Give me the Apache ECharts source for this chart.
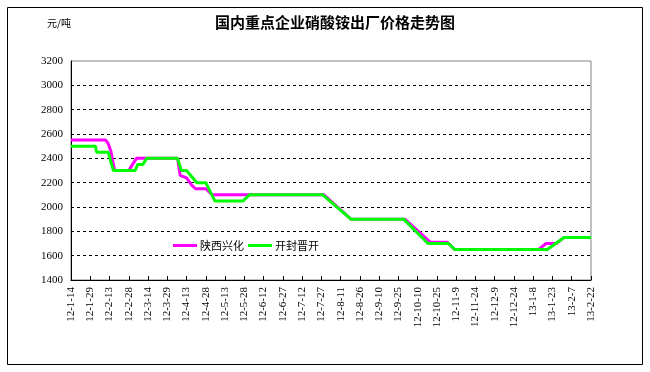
<!DOCTYPE html>
<html>
<head>
<meta charset="utf-8">
<script src="https://cdn.jsdelivr.net/npm/echarts@6/dist/echarts.min.js"></script>
<style>html,body{margin:0;padding:0;background:#fff;}#c{width:650px;height:372px;}</style>
</head>
<body>
<div id="c"></div>
<script>
// tick labels (every 15 days from 2012-01-14)
var tickLabels = ['12-1-14','12-1-29','12-2-13','12-2-28','12-3-14','12-3-29','12-4-13','12-4-28','12-5-13','12-5-28','12-6-12','12-6-27','12-7-12','12-7-27','12-8-11','12-8-26','12-9-10','12-9-25','12-10-10','12-10-25','12-11-9','12-11-24','12-12-9','12-12-24','13-1-8','13-1-23','13-2-7','13-2-22'];
var seriesNames = ['陕西兴化','开封晋开'];
// day offset from 2012-01-14, price (元/吨)
var shaanxiDays   = [0,27,29,31,34,45,48,51,83,85,90,94,97,105,110,197,218,260,280,293,299,364,370,378,384,405];
var shaanxiValues = [2550,2550,2520,2460,2300,2300,2350,2400,2400,2260,2240,2180,2150,2150,2100,2100,1900,1900,1710,1710,1650,1650,1700,1700,1750,1750];
var kaifengDays   = [0,19,20,29,33,50,52,56,59,83,86,90,98,105,112,134,139,196,218,259,278,294,299,371,384,405];
var kaifengValues = [2500,2500,2450,2450,2300,2300,2350,2350,2400,2400,2300,2300,2200,2200,2050,2050,2100,2100,1900,1900,1700,1700,1650,1650,1750,1750];

function pairs(d, v){ return d.map(function(x,i){ return [x, v[i]]; }); }

var chart = echarts.init(document.getElementById('c'));
var splitColors = ['#000','#000','#000','#000','#000','#000','#000','#000','#000','rgba(0,0,0,0)'];
chart.setOption({
  animation: false,
  backgroundColor: '#fff',
  grid: { left: 71, right: 59, top: 61, bottom: 92, show: true, borderColor: '#808080', borderWidth: 1, backgroundColor: 'transparent' },
  legend: {
    left: 168, top: 235, itemWidth: 24, itemHeight: 3, itemGap: 4, icon: 'rect',
    textStyle: { fontFamily: 'Noto Sans CJK SC', fontSize: 11, color: '#000', padding: [0,0,0,-2] },
    data: seriesNames
  },
  xAxis: {
    type: 'value', min: 0, max: 405, interval: 15,
    axisLine: { show: true, lineStyle: { color: '#000', width: 1 } },
    axisTick: { show: true, inside: true, length: 4, lineStyle: { color: '#000' } },
    splitLine: { show: false },
    axisLabel: {
      rotate: 90, margin: 7, fontFamily: 'Liberation Serif', fontSize: 11, color: '#000',
      formatter: function(v){ return tickLabels[Math.round(v/15)] || ''; }
    }
  },
  yAxis: {
    type: 'value', min: 1400, max: 3200, interval: 200,
    axisLine: { show: true, lineStyle: { color: '#000', width: 1 } },
    axisTick: { show: false },
    splitLine: { show: true, lineStyle: { color: splitColors, type: [3,3], width: 1 } },
    axisLabel: { margin: 8, fontFamily: 'Liberation Serif', fontSize: 11, color: '#000', formatter: function(v){ return String(v); } }
  },
  graphic: [
    { type: 'rect', shape: { x: 7.5, y: 7.5, width: 635, height: 357 }, style: { fill: 'none', stroke: '#000', lineWidth: 1 }, silent: true },
    { type: 'text', x: 47, y: 23, style: { text: '元/吨', fontFamily: 'Noto Sans CJK SC', fontSize: 10, fill: '#000', textVerticalAlign: 'middle' } },
    { type: 'text', x: 335, y: 22, style: { text: '国内重点企业硝酸铵出厂价格走势图', fontFamily: 'Noto Sans CJK SC', fontWeight: 'bold', fontSize: 15, fill: '#000', textAlign: 'center', textVerticalAlign: 'middle' } }
  ],
  series: [
    { name: seriesNames[0], type: 'line', symbol: 'none', data: pairs(shaanxiDays, shaanxiValues), itemStyle: { color: '#FF00FF' }, lineStyle: { color: '#FF00FF', width: 3 } },
    { name: seriesNames[1], type: 'line', symbol: 'none', data: pairs(kaifengDays, kaifengValues), itemStyle: { color: '#00FF00' }, lineStyle: { color: '#00FF00', width: 3 } }
  ]
});
</script>
</body>
</html>
